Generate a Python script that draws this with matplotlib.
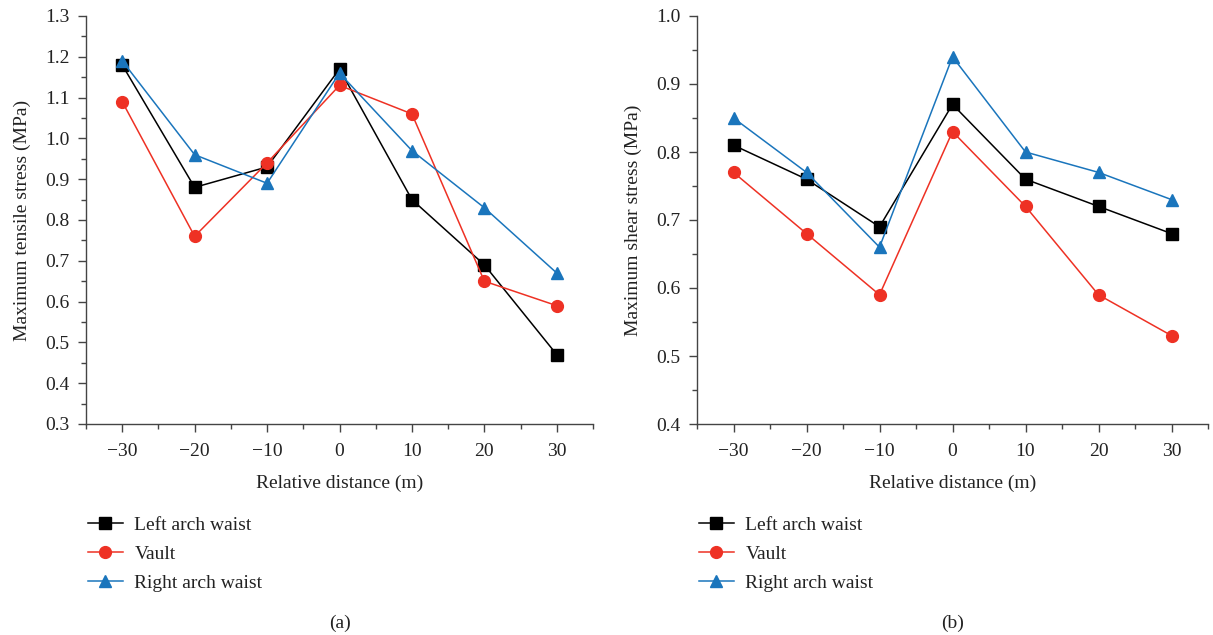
import matplotlib
matplotlib.use("Agg")
import matplotlib.pyplot as plt
from matplotlib.ticker import MultipleLocator

x = [-30, -20, -10, 0, 10, 20, 30]
series_names = ["Left arch waist", "Vault", "Right arch waist"]

tensile_left = [1.18, 0.88, 0.93, 1.17, 0.85, 0.69, 0.47]
tensile_vault = [1.09, 0.76, 0.94, 1.13, 1.06, 0.65, 0.59]
tensile_right = [1.19, 0.96, 0.89, 1.16, 0.97, 0.83, 0.67]

shear_left = [0.81, 0.76, 0.69, 0.87, 0.76, 0.72, 0.68]
shear_vault = [0.77, 0.68, 0.59, 0.83, 0.72, 0.59, 0.53]
shear_right = [0.85, 0.77, 0.66, 0.94, 0.80, 0.77, 0.73]

plt.rcParams['font.family'] = ['Liberation Serif', 'DejaVu Serif']
FS = 14

colors = ["#000000", "#ee3124", "#1a75bc"]
markers = ["s", "o", "^"]
msizes = [8, 8.5, 8]

W, H = 1213, 635
fig = plt.figure(figsize=(W / 100, H / 100), dpi=100)

def make_axes(x0, x1, y0, y1):
    return fig.add_axes([x0 / W, 1 - y1 / H, (x1 - x0) / W, (y1 - y0) / H])

axA = make_axes(86, 593, 16, 424)
axB = make_axes(697, 1208, 16, 424)

def draw(ax, data, ylim, ylabel, caption):
    for vals, name, c, m, ms in zip(data, series_names, colors, markers, msizes):
        ax.plot(x, vals, color=c, marker=m, markersize=ms, linewidth=1.1,
                label=name, clip_on=False)
    ax.set_xlim(-35, 35)
    ax.set_ylim(*ylim)
    ax.xaxis.set_major_locator(MultipleLocator(10))
    ax.xaxis.set_minor_locator(MultipleLocator(5))
    ax.yaxis.set_major_locator(MultipleLocator(0.1))
    ax.yaxis.set_minor_locator(MultipleLocator(0.05))
    ax.yaxis.set_major_formatter(plt.FuncFormatter(lambda v, p: f"{v:.1f}"))
    ax.xaxis.set_major_formatter(plt.FuncFormatter(lambda v, p: f"{int(round(v))}".replace("-", "\u2212")))
    for s in ["top", "right"]:
        ax.spines[s].set_visible(False)
    for s in ["left", "bottom"]:
        ax.spines[s].set_color("#444444")
        ax.spines[s].set_linewidth(1.0)
    ax.tick_params(which="major", direction="out", length=6, width=1.0,
                   color="#444444", labelsize=FS, labelcolor="#222222", pad=6)
    ax.tick_params(axis="x", which="major", pad=8)
    ax.tick_params(which="minor", direction="out", length=3.5, width=1.0,
                   color="#444444")
    ax.set_xlabel("Relative distance (m)", fontsize=FS, color="#222222", labelpad=10)
    ax.set_ylabel(ylabel, fontsize=FS, color="#222222", labelpad=10)
    leg = ax.legend(loc="upper left", bbox_to_anchor=(-0.012, -0.208), frameon=False,
                    fontsize=FS, handlelength=1.8, handletextpad=0.6,
                    labelspacing=0.58, borderaxespad=0)
    for t in leg.get_texts():
        t.set_color("#222222")
    ax.text(0.5, -0.488, caption, transform=ax.transAxes, ha="center",
            va="center", fontsize=FS, color="#222222")

draw(axA, [tensile_left, tensile_vault, tensile_right], (0.3, 1.3),
     "Maximum tensile stress (MPa)", "(a)")
draw(axB, [shear_left, shear_vault, shear_right], (0.4, 1.0),
     "Maximum shear stress (MPa)", "(b)")

fig.savefig("out.png", dpi=100)
